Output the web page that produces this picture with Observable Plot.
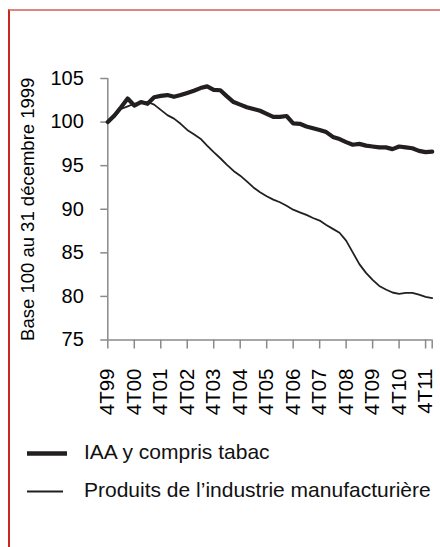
<!DOCTYPE html>
<html>
<head>
<meta charset="utf-8">
<script src="https://cdn.jsdelivr.net/npm/d3@7"></script>
<script src="https://cdn.jsdelivr.net/npm/@observablehq/plot@0.6"></script>
<style>
  html, body { margin: 0; padding: 0; background: #fff; }
  body { width: 440px; height: 547px; position: relative; overflow: hidden; font-family: "Liberation Sans", Arial, sans-serif; }
  #frame { position: absolute; left: 8px; top: 9px; width: 440px; height: 560px;
           border-top: 2px solid #dc8682; border-left: 2px solid #c9271d; box-sizing: border-box; }
  #chart { position: absolute; left: 0; top: 0; }
  .legend { position: absolute; left: 0; top: 0; width: 440px; height: 547px; pointer-events: none; }
  .legend span { position: absolute; left: 84px; font-size: 21px; color: #111; white-space: nowrap; line-height: 1; }
</style>
</head>
<body>
<div id="frame"></div>
<div id="chart"></div>
<div class="legend" id="legend"></div>
<script>
const periods = [
  "4T99","1T00","2T00","3T00","4T00","1T01","2T01","3T01","4T01","1T02","2T02","3T02","4T02",
  "1T03","2T03","3T03","4T03","1T04","2T04","3T04","4T04","1T05","2T05","3T05","4T05",
  "1T06","2T06","3T06","4T06","1T07","2T07","3T07","4T07","1T08","2T08","3T08","4T08",
  "1T09","2T09","3T09","4T09","1T10","2T10","3T10","4T10","1T11","2T11","3T11","4T11","1T12"
];
const iaa = [
  100, 100.75, 101.7, 102.7, 101.9, 102.3, 102.1, 102.85, 103.0, 103.1, 102.9, 103.1, 103.35,
  103.6, 103.9, 104.1, 103.7, 103.65, 102.95, 102.3, 102.0, 101.7, 101.5, 101.3, 100.95,
  100.6, 100.6, 100.7, 99.85, 99.8, 99.5, 99.3, 99.1, 98.85, 98.3, 98.05, 97.7,
  97.4, 97.5, 97.3, 97.2, 97.1, 97.1, 96.9, 97.2, 97.1, 97.0, 96.7, 96.55, 96.6
];
const manuf = [
  100, 100.6, 101.5, 101.8, 102.1, 102.2, 102.3, 102.0, 101.4, 100.8, 100.4, 99.8, 99.1,
  98.6, 98.1, 97.3, 96.55, 95.85, 95.1, 94.4, 93.85, 93.2, 92.5, 91.95, 91.5,
  91.1, 90.8, 90.4, 89.95, 89.65, 89.35, 89.0, 88.7, 88.2, 87.75, 87.3, 86.4,
  85.05, 83.7, 82.7, 81.9, 81.2, 80.8, 80.45, 80.3, 80.4, 80.4, 80.2, 79.95, 79.8
];
const yTicks = [75, 80, 85, 90, 95, 100, 105];
const xTickLabels = ["4T99","4T00","4T01","4T02","4T03","4T04","4T05","4T06","4T07","4T08","4T09","4T10","4T11"];
const seriesNames = ["IAA y compris tabac", "Produits de l\u2019industrie manufacturi\u00e8re"];
const yTitle = "Base 100 au 31 d\u00e9cembre 1999";

const rowsIaa = periods.map((p, i) => ({i, period: p, value: iaa[i]}));
const rowsManuf = periods.map((p, i) => ({i, period: p, value: manuf[i]}));
const xTickIdx = xTickLabels.map(l => periods.indexOf(l));
const lastIdx = periods.length - 1;

const ink = "#231f20";
const axisGray = "#8a8a8a";

const chart = Plot.plot({
  width: 440,
  height: 420,
  marginTop: 78,
  marginBottom: 80.5,
  marginLeft: 107.3,
  marginRight: 8.3,
  style: {fontFamily: "'Liberation Sans', Arial, sans-serif", background: "transparent", color: "#000"},
  x: {type: "linear", domain: [0, lastIdx]},
  y: {domain: [75, 105]},
  marks: [
    Plot.axisY({ticks: yTicks, tickSize: 7, tickPadding: 17, stroke: axisGray, fill: "#000",
                strokeWidth: 1.5, fontSize: 20, label: null}),
    Plot.axisX({ticks: [...xTickIdx, lastIdx], tickSize: 9, tickPadding: 19.5, tickRotate: -90,
                tickFormat: d => (xTickIdx.includes(d) ? periods[d] : ""),
                stroke: axisGray, fill: "#000", strokeWidth: 1.5, fontSize: 20.5, label: null}),
    Plot.ruleX([0], {y1: 75, y2: 105, stroke: axisGray, strokeWidth: 1.5}),
    Plot.ruleY([75], {x1: 0, x2: lastIdx, stroke: axisGray, strokeWidth: 1.5}),
    Plot.line(rowsManuf, {x: "i", y: "value", stroke: ink, strokeWidth: 1.8, strokeLinejoin: "round"}),
    Plot.line(rowsIaa, {x: "i", y: "value", stroke: ink, strokeWidth: 4.2, strokeLinejoin: "round"}),
    Plot.text([yTitle], {text: d => d, frameAnchor: "left", dx: -79.5, rotate: -90,
                         textAnchor: "middle", lineAnchor: "middle", fontSize: 18.5, fill: "#000"})
  ]
});
document.getElementById("chart").appendChild(chart);

// legend
const legend = document.getElementById("legend");
const ns = "http://www.w3.org/2000/svg";
const lsvg = document.createElementNS(ns, "svg");
lsvg.setAttribute("width", 440); lsvg.setAttribute("height", 547);
lsvg.style.position = "absolute"; lsvg.style.left = "0"; lsvg.style.top = "0";
const legendItems = [
  {name: seriesNames[0], width: 4.5, y: 453.5, x2: 67, ty: 441},
  {name: seriesNames[1], width: 1.8, y: 491.5, x2: 63, ty: 479}
];
legendItems.forEach(it => {
  const ln = document.createElementNS(ns, "line");
  ln.setAttribute("x1", 27); ln.setAttribute("x2", it.x2);
  ln.setAttribute("y1", it.y); ln.setAttribute("y2", it.y);
  ln.setAttribute("stroke", ink); ln.setAttribute("stroke-width", it.width);
  lsvg.appendChild(ln);
  const sp = document.createElement("span");
  sp.textContent = it.name;
  sp.style.top = it.ty + "px";
  legend.appendChild(sp);
});
legend.appendChild(lsvg);
</script>
</body>
</html>
